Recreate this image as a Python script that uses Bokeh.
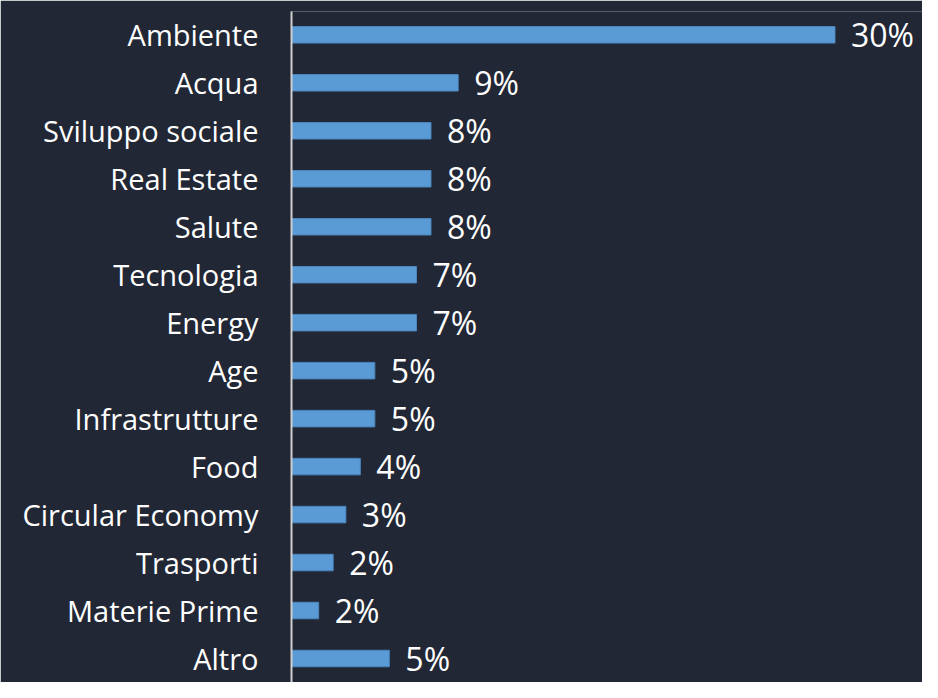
from bokeh.plotting import figure
from bokeh.models import ColumnDataSource, Range1d, FixedTicker
from bokeh.core.properties import value
from bokeh.embed import file_html
from bokeh.resources import INLINE

categories = ["Ambiente", "Acqua", "Sviluppo sociale", "Real Estate", "Salute",
              "Tecnologia", "Energy", "Age", "Infrastrutture", "Food",
              "Circular Economy", "Trasporti", "Materie Prime", "Altro"]
shares = [30.0, 9.2, 7.7, 7.7, 7.7, 6.9, 6.9, 4.6, 4.6, 3.8, 3.0, 2.3, 1.5, 5.4]
share_labels = ["30%", "9%", "8%", "8%", "8%", "7%", "7%", "5%", "5%", "4%",
                "3%", "2%", "2%", "5%"]

n = len(categories)
ypos = [n - 1 - i for i in range(n)]

BG = "#222735"

src = ColumnDataSource(dict(y=ypos, v=shares, lab=share_labels, cat=categories))

p = figure(width=922, height=682, output_backend="svg", toolbar_location=None,
           x_range=Range1d(0, 34.83), y_range=Range1d(-0.5, n - 1 + 0.486),
           min_border_left=291, min_border_right=0, min_border_top=11,
           min_border_bottom=0, x_axis_location=None)
p.background_fill_color = BG
p.border_fill_color = BG
p.outline_line_color = None
p.grid.visible = False

p.hbar(y="y", left=0, right="v", height=0.344, source=src,
       fill_color="#5b9bd5", line_color="#4a86bd", line_width=1)

p.text(x="v", y="y", text="lab", source=src, x_offset=16,
       text_baseline="middle", text_align="left", text_color="white",
       text_font=value("Open Sans"), text_font_size="32px")

ax = p.yaxis[0]
ax.ticker = FixedTicker(ticks=ypos)
ax.major_label_overrides = {y: c for y, c in zip(ypos, categories)}
ax.major_label_text_font = "Open Sans"
ax.major_label_text_font_size = "29px"
ax.major_label_text_color = "white"
ax.major_label_standoff = 27
ax.major_tick_line_color = None
ax.minor_tick_line_color = None
ax.axis_line_color = "#d0d0d0"
ax.axis_line_width = 2

open("out.html", "w").write(file_html(p, INLINE))
